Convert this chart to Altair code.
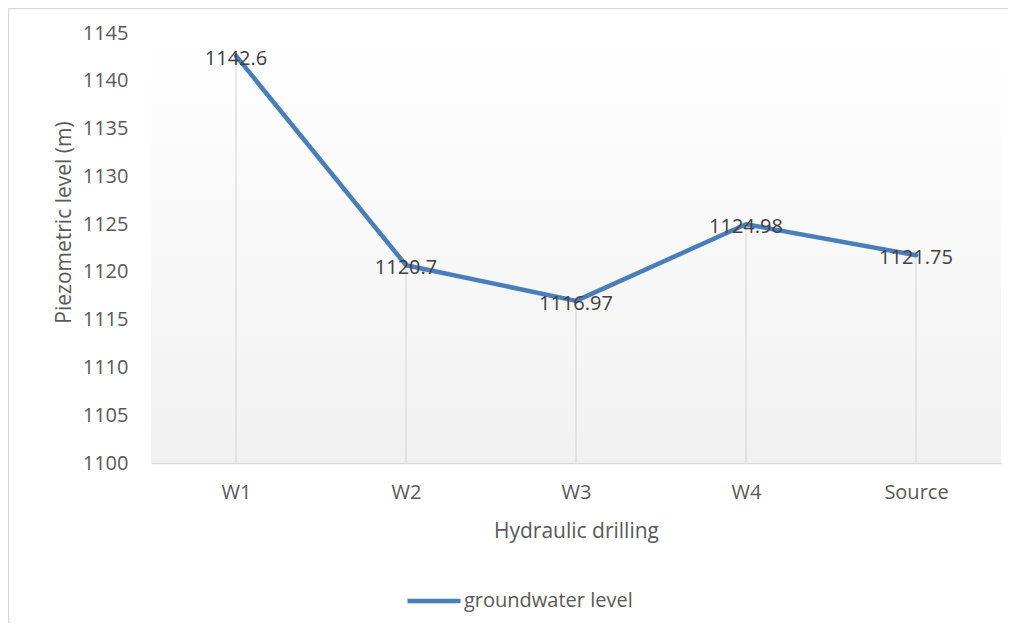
import altair as alt
import pandas as pd

wells = ["W1", "W2", "W3", "W4", "Source"]
levels = [1142.6, 1120.7, 1116.97, 1124.98, 1121.75]
label_texts = ["1142.6", "1120.7", "1116.97", "1124.98", "1121.75"]
y_ticks = [1100, 1105, 1110, 1115, 1120, 1125, 1130, 1135, 1140, 1145]
series_name = "groundwater level"

df = pd.DataFrame({
    "well": wells,
    "level": levels,
    "label": label_texts,
    "series": [series_name] * len(wells),
    "base": [1100] * len(wells),
})

W, H = 850, 430
FONT = "Open Sans"
FS = 20
TFS = 21
BLUE = "#4A7EBB"
GRID = "#D9D9D9"

x_enc = alt.X("well:N", sort=wells, scale=alt.Scale(type="point", padding=0.5),
              axis=alt.Axis(title="Hydraulic drilling", labelAngle=0, ticks=False,
                            domainColor=GRID, domainWidth=1.5, labelPadding=19,
                            labelFontSize=FS, labelColor="#595959", labelFont=FONT,
                            titleFontSize=TFS, titleColor="#595959", titleFont=FONT,
                            titleFontWeight="normal", titlePadding=18))
y_scale = alt.Scale(domain=[1100, 1145], nice=False, zero=False)

bg = alt.Chart(alt.Data(values=[{}])).mark_rect(
    fill=alt.LinearGradient(gradient="linear", x1=0, x2=0, y1=0, y2=1,
                            stops=[alt.GradientStop(offset=0, color="#FFFFFF"),
                                   alt.GradientStop(offset=1, color="#F1F1F1")])
).encode(x=alt.value(0), x2=alt.value(W), y=alt.value(0), y2=alt.value(H))

border_top = alt.Chart(alt.Data(values=[{}])).mark_rule(color=GRID, strokeWidth=1.5).encode(
    x=alt.value(-143), x2=alt.value(W + 7), y=alt.value(-24.5))
border_left = alt.Chart(alt.Data(values=[{}])).mark_rule(color=GRID, strokeWidth=1.5).encode(
    x=alt.value(-142.5), y=alt.value(-25), y2=alt.value(H + 160))

base = alt.Chart(df)

drops = base.mark_rule(color=GRID, strokeWidth=1.2).encode(
    x=x_enc,
    y=alt.Y("level:Q", scale=y_scale,
            axis=alt.Axis(title="Piezometric level (m)", values=y_ticks, format="d",
                          grid=False, domain=False, ticks=False, labelPadding=23,
                          labelFontSize=FS, labelColor="#595959", labelFont=FONT,
                          titleFontSize=TFS, titleColor="#595959", titleFont=FONT,
                          titleFontWeight="normal", titleX=-77, titleY=189)),
    y2="base:Q",
)

line = base.mark_line(strokeWidth=4.5, strokeCap="round", strokeJoin="round").encode(
    x=x_enc,
    y=alt.Y("level:Q", scale=y_scale),
    color=alt.Color("series:N", scale=alt.Scale(range=[BLUE]),
                    legend=alt.Legend(title=None, orient="none", legendX=254, legendY=539,
                                      symbolType="stroke", symbolSize=2809,
                                      symbolStrokeWidth=4.5, labelFontSize=FS,
                                      labelColor="#595959", labelFont=FONT,
                                      labelOffset=1, labelLimit=400, padding=0)),
)

labels = base.mark_text(fontSize=FS, font=FONT, color="#404040", baseline="middle", dy=3).encode(
    x=x_enc,
    y=alt.Y("level:Q", scale=y_scale),
    text="label:N",
)

chart = alt.layer(bg, border_top, border_left, drops, line, labels).properties(
    width=W, height=H,
    padding={"left": 143, "top": 25, "right": 7, "bottom": 160},
    autosize=alt.AutoSizeParams(type="none"),
).configure_view(stroke=None)

chart.save("out.html", embed_options={"renderer": "svg", "actions": False})
